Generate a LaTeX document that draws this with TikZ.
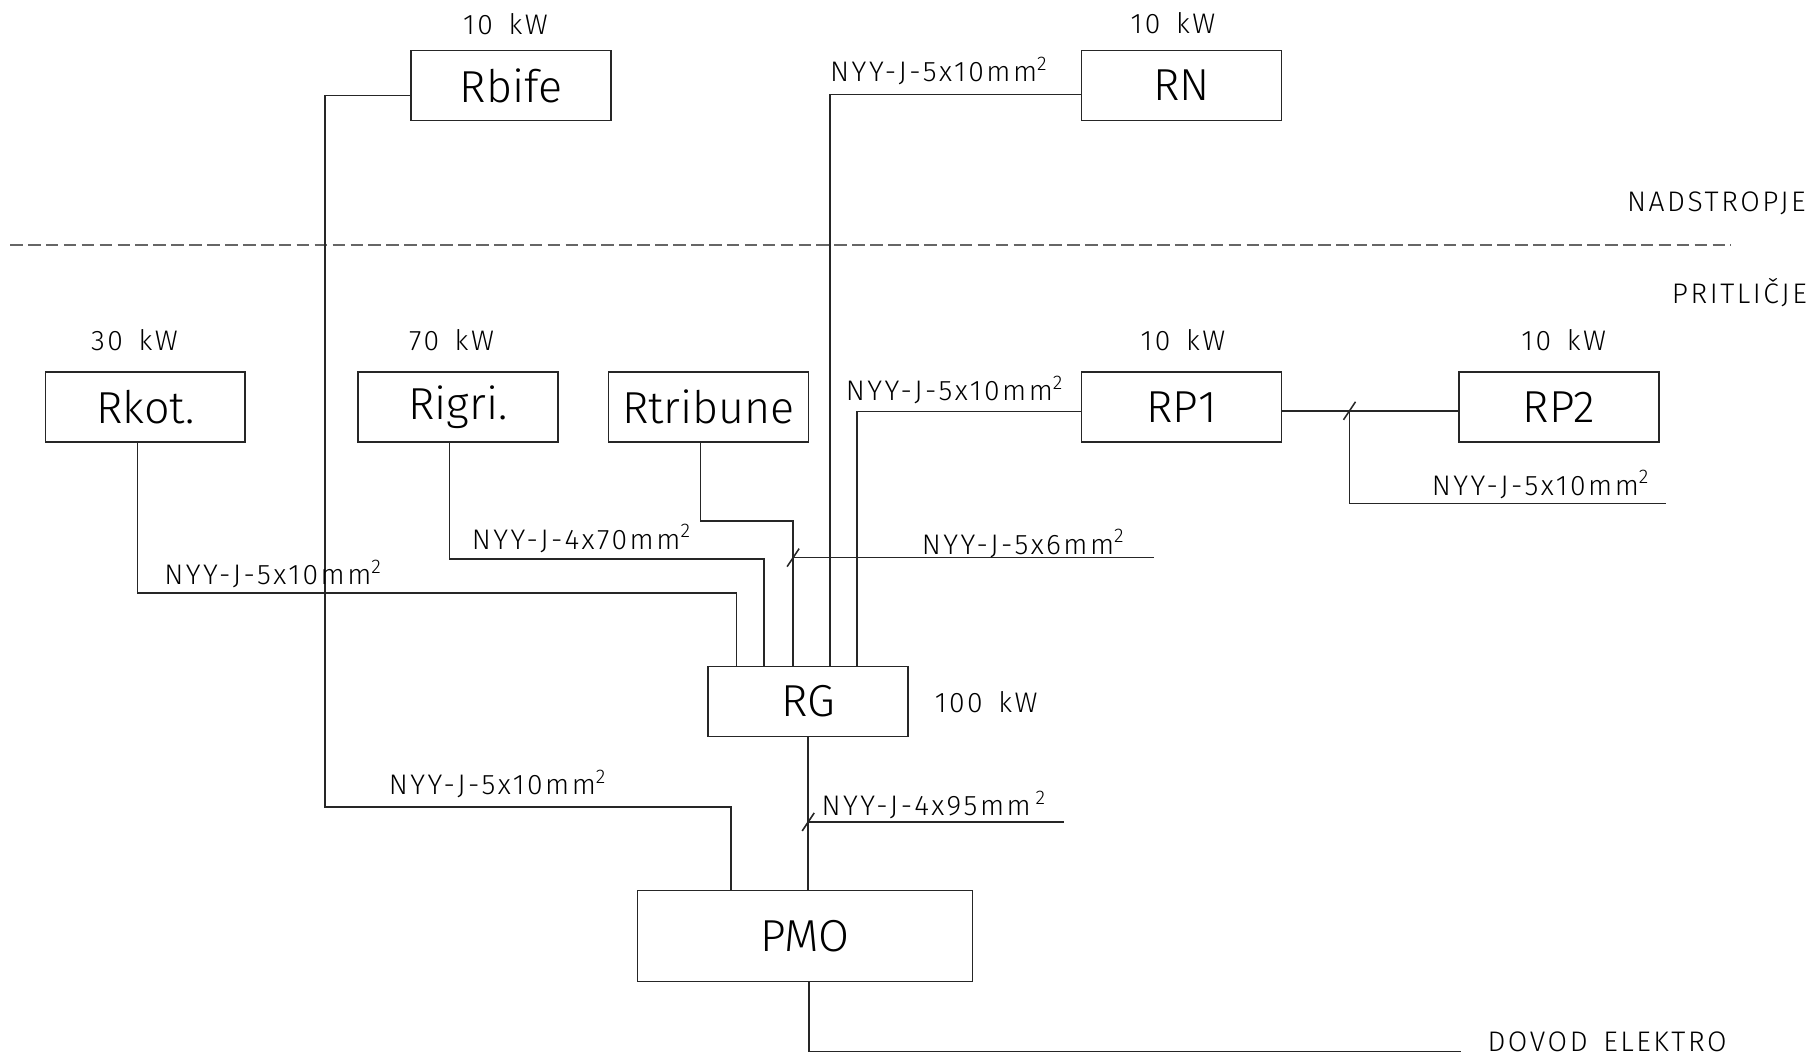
\documentclass[tikz,border=0pt]{standalone}
\usepackage{fontspec}
\setmainfont{Fira Sans}[UprightFont={* Light}]
\newfontfamily\labelfont{Fira Sans}[UprightFont={* Light}, LetterSpace=9, WordSpace=1.5]
\usepackage{tikz}
\usetikzlibrary{calc}
\newcommand{\bigtxt}{\fontsize{25.5}{30}\selectfont}
\newcommand{\smalltxt}{\labelfont\fontsize{16.1}{19}\selectfont}
\def\tickmark(#1){\draw ($(#1)+(-6,9)$) -- ($(#1)+(6,-9)$);}
\tikzset{
	panel/.style={draw, minimum width=4cm, minimum height=1.4cm, inner sep=0pt, outer sep=0pt, font=\bigtxt},
	power/.style={inner sep=0pt, anchor=base, font=\smalltxt},
	cable/.style={inner sep=0pt, anchor=base west, font=\smalltxt},
	floor/.style={inner sep=0pt, anchor=base east, font=\smalltxt}
}

\begin{document}
\begin{tikzpicture}[x=0.02cm, y=-0.02cm, line width=0.9pt, draw=black!85]
			%%%%% START %%%%%
			\useasboundingbox (0,0) rectangle (1811,1056);
			
			\draw[dashed, dash pattern=on 7.2pt off 3pt, color=black!60, line width=1.2pt] (10,244.8) -- (1731,244.8);
			\node[floor] (nad) at (1806.4,211.5) {NADSTROPJE};
			\node[floor] (prit) at (1807.5,303) {PRITLIČJE};
			
			\node[panel] (Rbife) at (511,85.5) {Rbife};
			\node[panel] (RN) at (1181.5,85.5) {RN};
			\node[panel] (Rkot) at (145.3,407) {Rkot.};
			\node[panel] (Rigri) at (457.9,407) {Rigri.};
			\node[panel] (Rtribune) at (708.4,407) {Rtribune};
			\node[panel] (RP1) at (1181.5,407) {RP1};
			\node[panel] (RP2) at (1558.8,407) {RP2};
			\node[panel] (RG) at (808.2,701.5) {RG};
			\node[panel, minimum width=6.706cm, minimum height=1.814cm] (PMO) at (805,936) {PMO};
			
			\node[power] (pRbife) at (505.5,34) {10 kW};
			\node[power] (pRN) at (1173,33.7) {10 kW};
			\node[power] (pRkot) at (134.5,350) {30 kW};
			\node[power] (pRigri) at (451.5,350) {70 kW};
			\node[power] (pRP1) at (1183,350) {10 kW};
			\node[power] (pRP2) at (1563.7,350) {10 kW};
			\node[power, anchor=base west] (pRG) at (934,712.6) {100 kW};
			
			% vodi do RG
			\draw ($(Rkot.south)+(-7.8,0)$) -- ++(0,150.8) -| ($(RG.north west)+(28.3,0)$);
			\draw ($(Rigri.south)+(-8.4,0)$) -- ++(0,117) -| ($(RG.north west)+(56,0)$);
			\draw ($(Rtribune.south)+(-8.1,0)$) -- ++(0,79) -| ($(RG.north west)+(84.9,0)$);
			\draw ($(RN.west)+(0,9.1)$) -| ($(RG.north west)+(121.9,0)$);
			\draw ($(RP1.west)+(0,4.5)$) -| ($(RG.north west)+(148.6,0)$);
			
			\coordinate (t1) at ($(RG.north west)+(84.9,-108.9)$);
			\draw (t1) -- ++(361.3,0);
			\tickmark(t1)
			
			\draw ($(RP1.east)+(0,3.8)$) -- ($(RP2.west)+(0,3.8)$);
			\coordinate (t3) at ($(RP1.east)+(68,3.8)$);
			\draw (t3) -- ++(0,92.6) -- ++(316.6,0);
			\tickmark(t3)
			
			% vodi do PMO
			\draw ($(Rbife.west)+(0,9.8)$) -| ++(-86,711.7) -| ($(PMO.north west)+(93.7,0)$);
			\draw (RG.south) -- (RG.south |- PMO.north);
			\coordinate (t2) at ($(RG.south)+(0,85.4)$);
			\draw (t2) -- ++(256,0);
			\tickmark(t2)
			\draw ($(PMO.south)+(4,0)$) -- ++(0,70) -- ++(651.7,0);
			
			\node[cable] (cRN) at (829.3,81.7) {NYY-J-5x10mm\textsuperscript{2}};
			\node[cable] (cRP1) at (845,400.7) {NYY-J-5x10mm\textsuperscript{2}};
			\node[cable] (cRP2) at (1431,495) {NYY-J-5x10mm\textsuperscript{2}};
			\node[cable] (cRigri) at (471,549) {NYY-J-4x70mm\textsuperscript{2}};
			\node[cable] (cRtrib) at (921,554) {NYY-J-5x6mm\textsuperscript{2}};
			\node[cable] (cRkot) at (163.5,584.4) {NYY-J-5x10mm\textsuperscript{2}};
			\node[cable] (cRbife) at (388,794.5) {NYY-J-5x10mm\textsuperscript{2}};
			\node[cable] (cRG) at (820.7,815) {NYY-J-4x95mm\,\textsuperscript{2}};
			\node[cable] (dovod) at (1486.7,1051.5) {DOVOD ELEKTRO};
			
			%%%%% END %%%%%
\end{tikzpicture}
\end{document}
